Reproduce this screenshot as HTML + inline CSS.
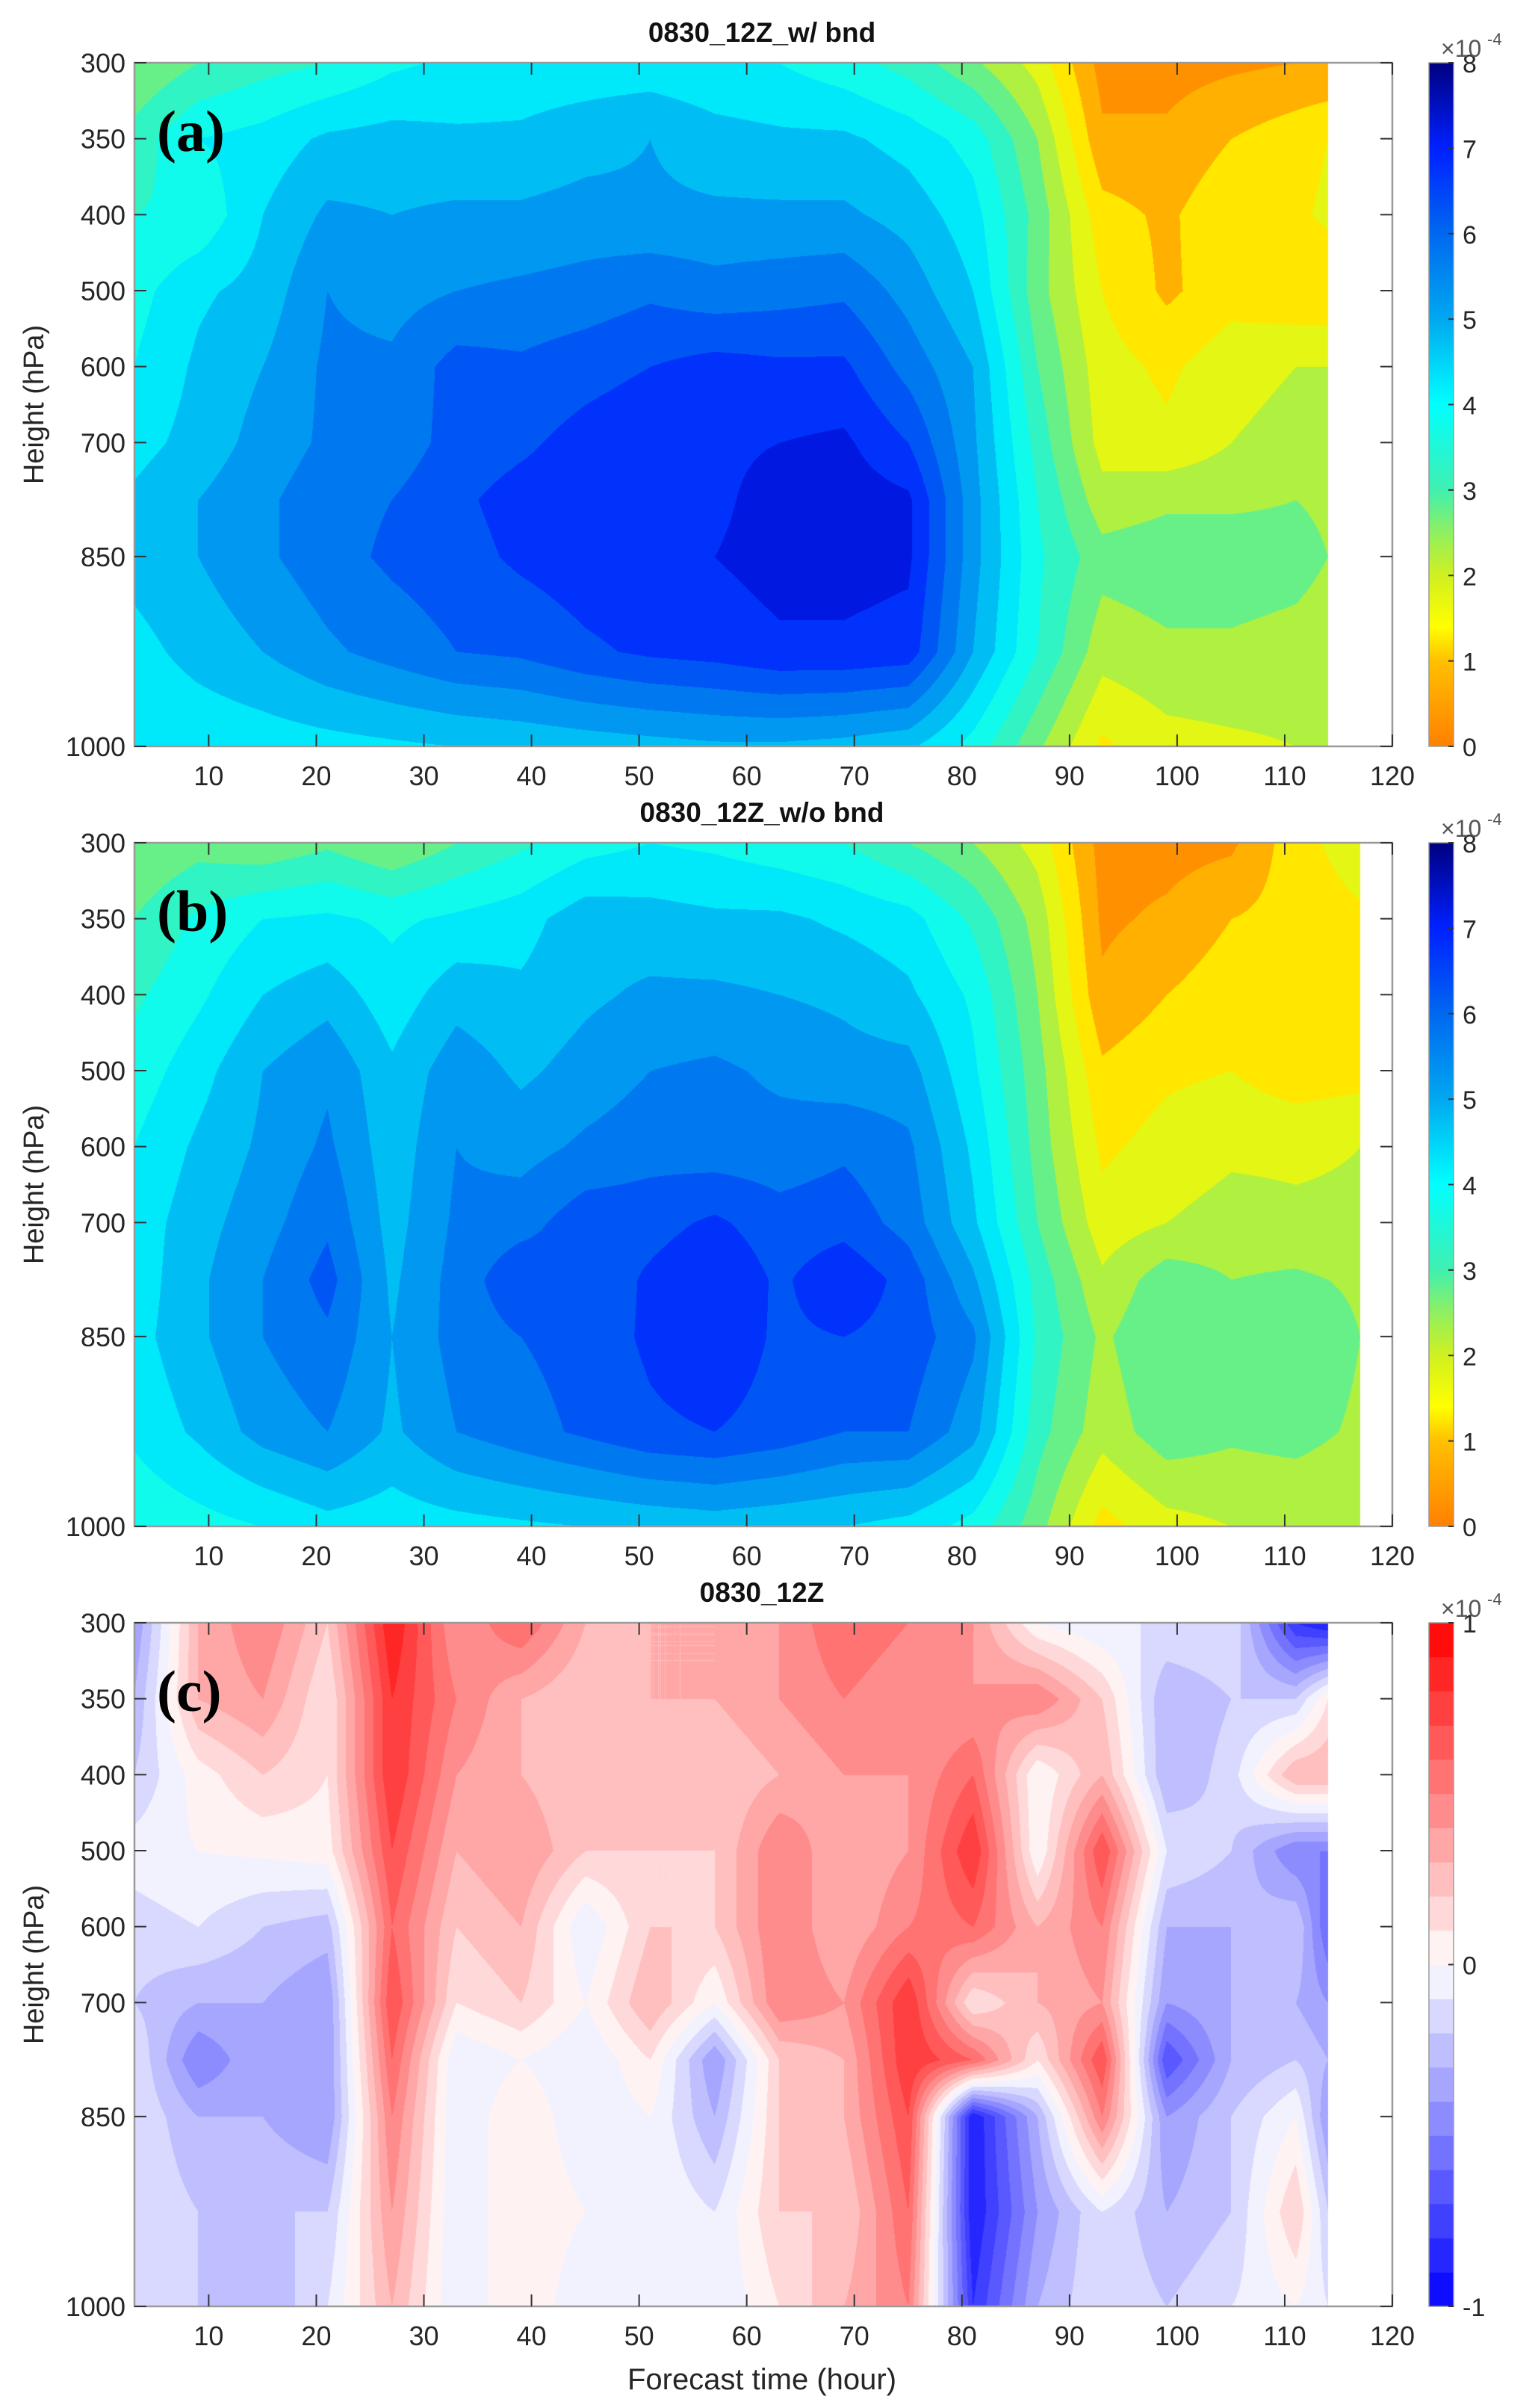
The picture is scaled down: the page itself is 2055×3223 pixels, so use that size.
<!DOCTYPE html>
<html><head><meta charset="utf-8">
<style>
html,body{margin:0;padding:0;background:#fff;}
body{width:2055px;height:3223px;position:relative;overflow:hidden;font-family:"Liberation Sans",sans-serif;}
canvas{position:absolute;}
svg{position:absolute;left:0;top:0;}
</style></head>
<body>
<canvas id="ca" width="1684" height="915" style="left:180px;top:84px"></canvas>
<canvas id="cb" width="1684" height="915" style="left:180px;top:1128px"></canvas>
<canvas id="cc" width="1684" height="915" style="left:180px;top:2172px"></canvas>
<svg id="ov" width="2055" height="3223"></svg>
<script>
// ---- data ----
const levels = [300,350,400,500,600,700,775,850,925,1000];
const timesA = [3,9,15,21,27,33,39,45,51,57,63,69,75,81,87,93,99,105,111,114];
const timesB = [3,9,15,21,27,33,39,45,51,57,63,69,75,81,87,93,99,105,111,117];
const timesC = [3,9,15,21,27,33,39,45,51,57,63,69,75,81,87,93,99,105,111,114];
const valuesA = [
[2.5,3.0,3.3,3.5,3.9,4.1,4.2,4.2,4.2,4.1,4.0,3.7,3.3,2.6,1.8,0.3,0.3,0.4,0.5,0.5],
[3.2,4.0,4.2,4.6,4.7,4.6,4.6,4.8,5.0,4.7,4.6,4.6,4.3,3.8,2.5,0.6,0.6,1.0,1.3,1.5],
[3.5,3.6,4.5,5.1,5.0,5.1,5.1,5.2,5.1,5.1,5.1,5.1,4.8,4.2,2.8,1.2,0.9,1.4,1.4,1.6],
[3.8,4.4,4.7,5.5,5.3,5.5,5.6,5.7,5.9,5.7,5.8,5.9,5.3,4.5,2.7,1.5,0.9,1.3,1.1,1.1],
[4.0,4.6,5.0,5.6,5.6,6.2,6.1,6.3,6.5,6.7,6.6,6.6,5.8,5.0,3.0,1.7,1.4,1.8,2.0,2.0],
[4.3,4.7,5.2,5.6,5.7,6.2,6.4,6.7,6.9,6.9,7.0,7.1,6.5,5.1,3.3,1.8,1.6,2.0,2.2,2.1],
[4.6,5.0,5.4,5.8,6.0,6.4,6.7,6.8,7.0,6.9,7.2,7.3,7.1,5.2,3.5,2.2,2.4,2.4,2.5,2.4],
[4.7,5.0,5.4,5.8,6.1,6.3,6.6,6.8,6.9,7.0,7.2,7.2,7.1,5.2,3.6,2.7,2.8,2.8,2.7,2.5],
[4.3,4.7,5.0,5.4,5.7,6.0,6.1,6.4,6.6,6.7,6.9,6.9,6.8,5.0,3.5,2.2,2.4,2.4,2.3,2.2],
[4.0,4.1,4.2,4.3,4.4,4.5,4.6,4.7,4.8,4.9,4.9,4.8,4.6,3.8,2.6,1.4,1.8,1.9,2.0,2.0]];
const valuesB = [
[2.5,2.8,2.6,2.9,2.5,3.0,3.4,3.8,4.0,3.9,3.7,3.5,3.0,2.5,1.8,0.3,0.3,0.4,1.3,1.8],
[3.0,3.6,4.0,4.1,3.9,4.1,4.3,4.8,4.7,4.6,4.6,4.4,4.2,3.4,2.3,0.4,0.6,1.0,1.2,1.4],
[3.4,3.9,4.5,4.8,4.2,4.8,4.6,4.9,5.1,5.1,5.0,4.9,4.6,3.9,2.5,0.6,1.0,1.3,1.1,1.1],
[3.7,4.3,5.0,5.4,4.6,5.3,4.9,5.2,5.5,5.6,5.4,5.2,5.2,4.1,2.7,1.1,1.4,1.5,1.2,1.3],
[4.0,4.6,5.1,5.6,4.7,5.5,5.3,5.6,5.8,5.7,5.7,5.9,5.6,4.4,2.8,1.4,1.7,1.9,1.9,2.0],
[4.2,4.8,5.3,5.9,4.8,5.6,5.8,6.3,6.3,6.6,6.2,6.3,5.8,4.6,3.0,1.7,2.0,2.2,2.1,2.1],
[4.2,4.9,5.5,6.2,4.9,5.7,6.4,6.1,6.6,7.0,6.4,6.9,6.3,5.1,3.3,2.1,2.8,2.5,2.6,2.4],
[4.3,4.9,5.5,5.9,5.0,5.7,6.0,6.2,6.6,6.9,6.4,6.5,6.3,5.6,3.4,2.4,3.0,2.7,3.0,2.5],
[4.1,4.6,5.2,5.5,4.9,5.5,5.8,6.1,6.4,6.5,6.3,6.0,6.0,5.2,3.2,2.2,2.8,2.6,2.7,2.4],
[3.6,3.8,4.0,4.3,4.2,4.3,4.4,4.5,4.6,4.7,4.6,4.5,4.3,3.8,2.7,1.3,1.8,2.0,2.0,2.0]];
const valuesC = [
[-0.4,0.3,0.5,0.2,0.9,0.4,0.6,0.3,0.3,0.3,0.4,0.6,0.5,0.4,0.0,-0.1,-0.1,-0.1,-0.8,-0.9],
[-0.3,0.3,0.4,0.1,0.8,0.5,0.3,0.2,0.3,0.3,0.4,0.5,0.4,0.4,0.5,0.2,-0.3,-0.2,-0.2,0.1],
[-0.2,0.05,0.2,0.1,0.8,0.4,0.3,0.2,0.3,0.2,0.3,0.4,0.4,0.6,0.0,0.3,-0.3,-0.15,0.3,0.3],
[-0.05,0.0,0.02,0.05,0.7,0.3,0.4,0.2,0.2,0.2,0.5,0.3,0.4,0.8,0.0,0.7,-0.1,-0.2,-0.5,-0.5],
[-0.15,-0.1,-0.2,-0.25,0.6,0.2,0.3,-0.1,0.2,0.2,0.5,0.3,0.5,0.6,0.3,0.5,-0.3,-0.3,-0.2,-0.6],
[-0.2,-0.3,-0.3,-0.4,0.7,0.1,0.2,0.0,0.3,0.0,0.5,0.4,0.8,0.1,0.3,0.4,-0.4,-0.3,-0.3,-0.4],
[-0.1,-0.5,-0.3,-0.4,0.6,-0.1,0.0,-0.1,0.1,-0.4,0.2,0.3,0.8,0.6,0.1,0.7,-0.7,-0.3,-0.2,-0.3],
[-0.1,-0.3,-0.3,-0.4,0.5,-0.1,0.1,-0.1,0.0,-0.3,0.2,0.3,0.7,-0.9,-0.3,0.5,-0.4,-0.2,0.0,-0.4],
[-0.1,-0.2,-0.2,-0.2,0.4,-0.1,0.1,0.0,0.0,-0.1,0.2,0.2,0.6,-0.9,-0.4,-0.1,-0.3,-0.2,0.2,-0.2],
[-0.1,-0.2,-0.3,-0.1,0.3,-0.1,0.1,-0.1,0.0,-0.1,0.1,0.3,0.5,-0.8,-0.3,-0.1,-0.2,-0.1,0.0,-0.1]];
const xTicks = [10,20,30,40,50,60,70,80,90,100,110,120];
const yTicks = [300,350,400,500,600,700,850,1000];
const cbTicksAB = [0,1,2,3,4,5,6,7,8];
const cbTicksC = [-1,0,1];
const titles = ["0830_12Z_w/ bnd","0830_12Z_w/o bnd","0830_12Z"];
const panelLabels = ["(a)","(b)","(c)"];

// ---- layout / axes ----
const AX_L=180, AX_R=1864, AX_H=915, TOPS=[84,1128,2172];
const XMIN=3.1, XMAX=120;
const yKnots=[300,350,400,500,600,700,775,850,925,1000], yU=[0,1,2,3,4,5,5.75,6.5,7.75,9];
function xPix(t){return (t-XMIN)/(XMAX-XMIN)*(AX_R-AX_L);}
function yUnit(p){for(let i=0;i<yKnots.length-1;i++){if(p<=yKnots[i+1])return yU[i]+(p-yKnots[i])/(yKnots[i+1]-yKnots[i])*(yU[i+1]-yU[i]);}return 9;}
function yPix(p){return yUnit(p)/9*AX_H;}

function hex(h){return [parseInt(h.slice(1,3),16),parseInt(h.slice(3,5),16),parseInt(h.slice(5,7),16)];}
const stopsAB=[[0,'#ff8000'],[1,'#ffc000'],[1.4,'#ffff00'],[2,'#d0f020'],[2.5,'#90f060'],[3,'#40f0b0'],[4,'#00ffff'],[5,'#00a8f0'],[6,'#0068f0'],[7,'#0020ff'],[8,'#000080']].map(s=>[s[0],hex(s[1])]);
function cmapAB(v){v=Math.max(0,Math.min(8,v));for(let i=0;i<stopsAB.length-1;i++){const a=stopsAB[i],b=stopsAB[i+1];if(v<=b[0]){const f=(v-a[0])/(b[0]-a[0]);return a[1].map((c,k)=>Math.round(c+(b[1][k]-c)*f));}}return stopsAB[stopsAB.length-1][1];}
function cmapC(v){v=Math.max(-1,Math.min(1,v));if(v>=0){const g=Math.round(255*(1-v));return [255,g,g];}const g=Math.round(255*(1+v));return [g,g,255];}

function render(id,times,vals,cmap,step,lo,hi){
  const cv=document.getElementById(id),ctx=cv.getContext('2d');
  const W=cv.width,H=cv.height,img=ctx.createImageData(W,H),d=img.data;
  const colX=times.map(xPix), rowY=levels.map(yPix);
  const tmax=colX[colX.length-1];
  for(let y=0;y<H;y++){
    let r=0;while(r<rowY.length-2&&y>rowY[r+1])r++;
    const fy=Math.max(0,Math.min(1,(y-rowY[r])/(rowY[r+1]-rowY[r])));
    let c=0;
    for(let x=0;x<W;x++){
      const o=(y*W+x)*4;
      if(x>tmax){d[o]=d[o+1]=d[o+2]=255;d[o+3]=255;continue;}
      while(c<colX.length-2&&x>colX[c+1])c++;
      const fx=Math.max(0,Math.min(1,(x-colX[c])/(colX[c+1]-colX[c])));
      const v=(vals[r][c]*(1-fx)+vals[r][c+1]*fx)*(1-fy)+(vals[r+1][c]*(1-fx)+vals[r+1][c+1]*fx)*fy;
      let q=Math.floor((v-lo)/step);q=Math.max(0,Math.min(Math.round((hi-lo)/step)-1,q));
      const col=cmap(lo+(q+0.5)*step);
      d[o]=col[0];d[o+1]=col[1];d[o+2]=col[2];d[o+3]=255;
    }
  }
  ctx.putImageData(img,0,0);
}
render('ca',timesA,valuesA,cmapAB,0.5,0,8);
render('cb',timesB,valuesB,cmapAB,0.5,0,8);
render('cc',timesC,valuesC,cmapC,0.1,-1,1);

// ---- overlay ----
const NS='http://www.w3.org/2000/svg', ov=document.getElementById('ov');
function mk(tag,attrs,parent){const e=document.createElementNS(NS,tag);for(const k in attrs)e.setAttribute(k,attrs[k]);(parent||ov).appendChild(e);return e;}
function txt(s,attrs,parent){const e=mk('text',attrs,parent);e.textContent=s;return e;}
const CB_L=1913,CB_W=33;
const defs=mk('defs',{});
const gAB=mk('linearGradient',{id:'gAB',x1:0,y1:1,x2:0,y2:0},defs);
for(let i=0;i<=40;i++){const v=i/5,c=cmapAB(v);mk('stop',{offset:(v/8),'stop-color':`rgb(${c})`},gAB);}

TOPS.forEach((top,pi)=>{
  const g=mk('g',{});
  
  
  const bot=top+AX_H;
  const box=mk('rect',{x:AX_L,y:top,width:AX_R-AX_L,height:AX_H,fill:'none',stroke:'#9a9a9a','stroke-width':2.5},g);
  
  
  xTicks.forEach(t=>{
    const x=AX_L+xPix(t);
    mk('line',{x1:x,y1:bot,x2:x,y2:bot-16,stroke:'#333','stroke-width':2},g);
    mk('line',{x1:x,y1:top,x2:x,y2:top+16,stroke:'#333','stroke-width':2},g);
    const l=txt(String(t),{x:x,y:bot+52,'font-size':36,fill:'#262626','text-anchor':'middle'},g);
    
    
  });
  yTicks.forEach(p=>{
    const y=top+yPix(p);
    mk('line',{x1:AX_L,y1:y,x2:AX_L+16,y2:y,stroke:'#333','stroke-width':2},g);
    mk('line',{x1:AX_R,y1:y,x2:AX_R-16,y2:y,stroke:'#333','stroke-width':2},g);
    const l=txt(String(p),{x:AX_L-12,y:y+13,'font-size':36,fill:'#262626','text-anchor':'end'},g);
    
    
  });
  const yt=txt('Height (hPa)',{x:0,y:0,'font-size':38,fill:'#262626','text-anchor':'middle',transform:`translate(58,${top+AX_H/2}) rotate(-90)`},g);
  
  
  const tt=txt(titles[pi],{x:1020,y:top-28,'font-size':37,'font-weight':'bold',fill:'#111','text-anchor':'middle'},g);
  
  
  const pl=txt(panelLabels[pi],{x:210,y:top+118,'font-size':78,'font-weight':'bold','font-family':'Liberation Serif, serif',fill:'#000'},g);
  
  
  const cb=mk('g',{},g);
  
  
  if(pi<2){
    mk('rect',{x:CB_L,y:top,width:CB_W,height:AX_H,fill:'url(#gAB)',stroke:'#9a9a9a','stroke-width':1.5},cb);
    cbTicksAB.forEach(v=>{const y=bot-v/8*AX_H;
      mk('line',{x1:CB_L+CB_W-7,y1:y,x2:CB_L+CB_W,y2:y,stroke:'#333','stroke-width':2},cb);
      const l=txt(String(v),{x:CB_L+CB_W+12,y:y+13,'font-size':34,fill:'#262626'},cb);
      
      });
  } else {
    for(let i=0;i<20;i++){const lo=-1+i*0.1,c=cmapC(lo+0.05);
      mk('rect',{x:CB_L,y:bot-(i+1)/20*AX_H,width:CB_W,height:AX_H/20+0.5,fill:`rgb(${c})`},cb);}
    mk('rect',{x:CB_L,y:top,width:CB_W,height:AX_H,fill:'none',stroke:'#9a9a9a','stroke-width':1.5},cb);
    cbTicksC.forEach(v=>{const y=bot-(v+1)/2*AX_H;
      mk('line',{x1:CB_L+CB_W-7,y1:y,x2:CB_L+CB_W,y2:y,stroke:'#333','stroke-width':2},cb);
      const l=txt(String(v),{x:CB_L+CB_W+12,y:y+13,'font-size':34,fill:'#262626'},cb);
      
      });
  }
  const ex=txt('×10',{x:CB_L+16,y:top-8,'font-size':32,fill:'#555'},cb);
  
  
  txt('-4',{x:CB_L+78,y:top-24,'font-size':22,fill:'#555'},cb);
});
const xl=txt('Forecast time (hour)',{x:1020,y:3198,'font-size':40,fill:'#262626','text-anchor':'middle'});


</script>
</body></html>
